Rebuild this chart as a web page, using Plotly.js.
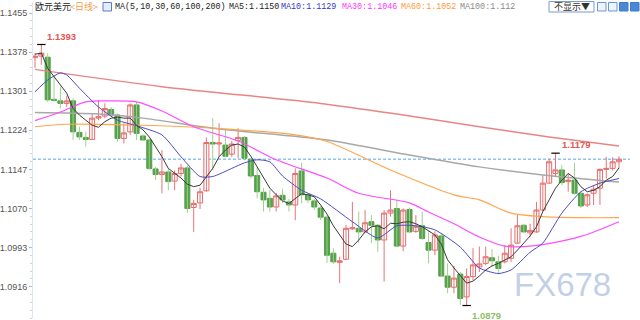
<!DOCTYPE html>
<html><head><meta charset="utf-8">
<script src="https://cdn.plot.ly/plotly-3.0.1.min.js"></script>
<style>html,body{margin:0;padding:0;background:#fff;overflow:hidden}#chart{width:640px;height:320px;}</style>
</head><body><div id="chart"></div>
<script>
// ---- data ----
const openP = [1.1367,1.1370,1.1368,1.1285,1.1282,1.1277,1.1282,1.1220,1.1210,1.1206,
1.1248,1.1252,1.1265,1.1254,1.1208,1.1221,1.1274,1.1213,1.1205,1.1148,
1.1137,1.1142,1.1124,1.1139,1.1150,1.1072,1.1081,1.1105,1.1200,1.1197,
1.1195,1.1177,1.1204,1.1210,1.1167,1.1135,1.1102,1.1090,1.1073,1.1096,
1.1083,1.1077,1.1144,1.1097,1.1085,1.1071,1.1053,1.0982,1.0964,1.0970,
1.1030,1.1031,1.1024,1.1044,1.1037,1.1008,1.1061,1.1070,1.0996,1.1068,
1.1025,1.1036,1.1003,1.0988,1.1016,1.0937,1.0915,1.0941,1.0896,1.0936,
1.0955,1.0962,1.0973,1.0965,1.0965,1.0972,1.1002,1.1037,1.1022,1.1024,
1.1067,1.1120,1.1139,1.1146,1.1123,1.1126,1.1100,1.1077,1.1100,1.1110,
1.1147,1.1149,1.1162];
const highP = [1.1376,1.1393,1.1376,1.1333,1.1310,1.1292,1.1287,1.1231,1.1221,1.1258,
1.1284,1.1277,1.1270,1.1257,1.1238,1.1277,1.1280,1.1216,1.1207,1.1152,
1.1185,1.1149,1.1145,1.1158,1.1155,1.1087,1.1111,1.1210,1.1248,1.1238,
1.1225,1.1203,1.1228,1.1213,1.1168,1.1152,1.1110,1.1107,1.1101,1.1109,
1.1089,1.1149,1.1160,1.1100,1.1089,1.1075,1.1056,1.0992,1.0975,1.1038,
1.1083,1.1064,1.1067,1.1057,1.1040,1.1067,1.1106,1.1088,1.1070,1.1072,
1.1057,1.1064,1.1028,1.1025,1.1022,1.0962,1.0957,1.0945,1.0952,1.0992,
1.0995,1.0995,1.0990,1.0977,1.0998,1.1031,1.1057,1.1040,1.1040,1.1083,
1.1136,1.1168,1.1179,1.1156,1.1139,1.1160,1.1103,1.1100,1.1116,1.1149,
1.1172,1.1171,1.1173];
const lowP = [1.1347,1.1353,1.1280,1.1280,1.1267,1.1270,1.1205,1.1205,1.1192,1.1205,
1.1244,1.1248,1.1251,1.1202,1.1198,1.1215,1.1205,1.1203,1.1146,1.1126,
1.1100,1.1106,1.1106,1.1133,1.1061,1.1024,1.1069,1.1103,1.1146,1.1172,
1.1171,1.1172,1.1169,1.1165,1.1129,1.1090,1.1064,1.1064,1.1064,1.1081,
1.1064,1.1047,1.1080,1.1081,1.1067,1.1047,1.0963,1.0961,1.0923,1.0969,
1.1028,1.1002,1.1022,1.1002,1.0985,1.0926,1.1054,1.0995,1.0986,1.1022,
1.1022,1.1008,1.0962,1.0978,1.0936,1.0903,1.0903,1.0880,1.0879,1.0929,
1.0945,1.0958,1.0955,1.0940,1.0962,1.0965,1.1000,1.1022,1.1015,1.1022,
1.1064,1.1119,1.1132,1.1116,1.1103,1.1097,1.1071,1.1073,1.1077,1.1077,
1.1129,1.1145,1.1149];
const closeP = [1.1370,1.1376,1.1284,1.1283,1.1277,1.1282,1.1221,1.1211,1.1206,1.1248,
1.1251,1.1267,1.1254,1.1208,1.1219,1.1274,1.1218,1.1205,1.1149,1.1137,
1.1142,1.1123,1.1139,1.1150,1.1070,1.1080,1.1103,1.1200,1.1197,1.1199,
1.1173,1.1197,1.1210,1.1169,1.1134,1.1103,1.1087,1.1073,1.1095,1.1087,
1.1077,1.1139,1.1097,1.1087,1.1073,1.1053,1.0978,1.0965,1.0967,1.1031,
1.1032,1.1024,1.1042,1.1037,1.1008,1.1061,1.1067,1.0996,1.1067,1.1024,
1.1035,1.1011,1.0988,1.1018,1.0937,1.0915,1.0933,1.0893,1.0936,1.0959,
1.0961,1.0975,1.0967,1.0952,1.0982,1.0998,1.1036,1.1024,1.1027,1.1067,
1.1120,1.1162,1.1146,1.1121,1.1126,1.1100,1.1075,1.1097,1.1108,1.1147,
1.1149,1.1162,1.1167];

const ma5 = [1.1374,1.1376,1.1346,1.1330,1.1313,1.1297,1.1267,1.1254,1.1244,1.1234,
1.1230,1.1241,1.1248,1.1250,1.1248,1.1248,1.1234,1.1225,1.1211,1.1192,
1.1172,1.1149,1.1139,1.1130,1.1118,1.1113,1.1116,1.1133,1.1149,1.1172,
1.1185,1.1195,1.1197,1.1191,1.1173,1.1152,1.1130,1.1110,1.1097,1.1085,
1.1080,1.1090,1.1099,1.1097,1.1093,1.1077,1.1059,1.1036,1.1018,1.1000,
1.0995,1.1008,1.1024,1.1034,1.1036,1.1030,1.1041,1.1040,1.1043,1.1044,
1.1040,1.1034,1.1026,1.1018,1.1000,1.0969,1.0953,1.0939,1.0923,1.0927,
1.0937,1.0949,1.0957,1.0962,1.0969,1.0975,1.0988,1.1001,1.1016,1.1034,
1.1064,1.1087,1.1110,1.1126,1.1139,1.1130,1.1113,1.1103,1.1106,1.1113,
1.1126,1.1133,1.1150];
const ma10Idx = [0,2,4,5,7,10,13,16,20,23,26,28,31,33,35,37,39,42,45,50,54,57,60,63,67,70,73,75,78,80,83,86,89,92];
const ma10Val = [1.1300,1.1323,1.1337,1.1333,1.1307,1.1270,1.1244,1.1233,1.1215,1.1172,1.1133,1.1133,1.1149,1.1160,1.1166,1.1162,1.1134,1.1106,1.1089,1.1044,1.1012,1.1036,1.1036,1.1028,1.0994,1.0953,1.0942,1.0949,1.0984,1.1002,1.1061,1.1103,1.1120,1.1129];
const ma30Idx = [0,4,8,12,16,20,25,32,38,46,51,59,62,66,70,74,77,80,86,92];
const ma30Val = [1.1243,1.1260,1.1280,1.1282,1.1280,1.1262,1.1231,1.1203,1.1166,1.1130,1.1100,1.1081,1.1063,1.1040,1.1014,1.0996,1.0995,1.0999,1.1015,1.1044];
const ma60Idx = [0,5,17,31,41,46,56,66,70,75,80,86,92];
const ma60Val = [1.1231,1.1236,1.1234,1.1226,1.1215,1.1202,1.1146,1.1097,1.1087,1.1061,1.1054,1.1052,1.1052];
const ma100Idx = [0,10,17,28,46,57,70,80,92];
const ma100Val = [1.1259,1.1256,1.1248,1.1228,1.1205,1.1180,1.1152,1.1136,1.1122];
const ma200Idx = [0,20,45,57,70,81,92];
const ma200Val = [1.1344,1.1310,1.1277,1.1256,1.1231,1.1211,1.1193];

const yTicks = [1.1455,1.1378,1.1301,1.1224,1.1147,1.1070,1.0993,1.0916];
const lastPrice = 1.1167;
const markIdx = [1,82,68];
const markVal = [1.1393,1.1179,1.0879];
const markText = ['1.1393','1.1179','1.0879'];
const headerTexts = ['欧元美元','<日线>','MA(5,10,30,60,100,200)','MA5:1.1150','MA10:1.1129','MA30:1.1046','MA60:1.1052','MA100:1.112'];

// ---- build ----
const idx = closeP.map((_, i) => i);
const wUpX = [], wUpY = [], wDnX = [], wDnY = [];
idx.forEach(i => {
  const up = closeP[i] >= openP[i];
  (up ? wUpX : wDnX).push(i, i, null);
  (up ? wUpY : wDnY).push(lowP[i], highP[i], null);
});
const bodyHi = idx.map(i => Math.max(openP[i], closeP[i]));
const bodyLo = idx.map(i => Math.min(openP[i], closeP[i]));

const traces = [
  {type:'scatter', mode:'lines', x:wDnX, y:wDnY, line:{color:'#9fd08f', width:1}, hoverinfo:'skip', connectgaps:false},
  {type:'scatter', mode:'lines', x:wUpX, y:wUpY, line:{color:'#e87474', width:1}, hoverinfo:'skip', connectgaps:false},
  {type:'candlestick', x:idx, open:openP, close:closeP, high:bodyHi, low:bodyLo, whiskerwidth:0,
    increasing:{line:{color:'#e66b6b', width:1}, fillcolor:'#ffffff'},
    decreasing:{line:{color:'#55a14c', width:1}, fillcolor:'#55a14c'}},
  {type:'scatter', mode:'lines', x:ma200Idx, y:ma200Val, line:{color:'#ea8585', width:1.5, shape:'spline', smoothing:0.8}},
  {type:'scatter', mode:'lines', x:ma100Idx, y:ma100Val, line:{color:'#a8a8a8', width:1.5, shape:'spline', smoothing:0.8}},
  {type:'scatter', mode:'lines', x:ma60Idx, y:ma60Val, line:{color:'#ffa64d', width:1.2, shape:'spline', smoothing:0.8}},
  {type:'scatter', mode:'lines', x:ma30Idx, y:ma30Val, line:{color:'#ff4dff', width:1.2, shape:'spline', smoothing:0.8}},
  {type:'scatter', mode:'lines', x:ma10Idx, y:ma10Val, line:{color:'#4a4ac4', width:1, shape:'spline', smoothing:0.6}},
  {type:'scatter', mode:'lines', x:idx, y:ma5, line:{color:'#3a3a3a', width:1}},
  {type:'scatter', mode:'markers', x:markIdx, y:markVal, marker:{symbol:'line-ew-open', size:6, color:'#000000', line:{color:'#000000', width:1.2}}}
];

const L = 33, R = 4, T = 2, B = 2, W = 640, H = 320;
const px = x => (x - L) / (W - L - R);
const py = y => 1 - (y - T) / (H - T - B);

const ann = [];
const hdrX = [33, 68, 113, 227, 279, 340, 399, 458];
const hdrC = ['#222','#f0a050','#222','#222','#3535c8','#ff33ff','#ff9a40','#8a8a8a'];
headerTexts.forEach((t, k) => {
  const cjk = k < 2;
  ann.push({xref:'paper', yref:'paper', x:px(hdrX[k]), y:py(7), xanchor:'left', yanchor:'middle', showarrow:false,
    text:t, font:{family: cjk ? 'Noto Sans CJK SC' : 'Liberation Mono, DejaVu Sans Mono, monospace', size: cjk ? 9 : 8.4, color:hdrC[k]}});
});
ann.push({xref:'paper', yref:'paper', x:px(571.5), y:py(7), xanchor:'center', yanchor:'middle', showarrow:false,
  text:'不显示▼', font:{family:'Noto Sans CJK SC', size:9, color:'#333'}});
ann.push({xref:'paper', yref:'paper', x:px(512), y:py(284), xanchor:'left', yanchor:'middle', showarrow:false,
  text:'FX678', font:{family:'Liberation Sans, Arial', size:33, color:'rgba(176,196,224,0.78)'}});
const markCol = ['#e25656','#e25656','#8cc068'];
markIdx.forEach((m, k) => {
  const low = k === 2;
  ann.push({x:m, y:markVal[k], xref:'x', yref:'y', xanchor:'left', yanchor: low ? 'top' : 'bottom',
    xshift: low ? 3 : 4, yshift: low ? -2 : 1, showarrow:false,
    text:'<b>' + markText[k] + '</b>', font:{family:'Liberation Sans, Arial', size:9.5, color:markCol[k]}});
});

const shapes = [
  {type:'line', xref:'paper', yref:'y', x0:0, x1:0.99, y0:lastPrice, y1:lastPrice, line:{color:'#8cc4f6', width:1.6, dash:'3px,2px'}, layer:'below'},
  {type:'rect', xref:'paper', yref:'paper', x0:px(549), x1:px(594), y0:py(12), y1:py(1.5), line:{color:'#7b9dc8', width:1}, fillcolor:'#ffffff'},
  {type:'rect', xref:'paper', yref:'paper', x0:px(597.5), x1:px(606), y0:py(11), y1:py(2.5), line:{color:'#6a96d2', width:1}, fillcolor:'#eef4fc'},
  {type:'rect', xref:'paper', yref:'paper', x0:px(608.5), x1:px(617), y0:py(11), y1:py(2.5), line:{color:'#6a96d2', width:1}, fillcolor:'#eef4fc'},
  {type:'rect', xref:'paper', yref:'paper', x0:px(619.5), x1:px(628), y0:py(11), y1:py(2.5), line:{color:'#3f7ccc', width:1}, fillcolor:'#4a88d6'},
  {type:'rect', xref:'paper', yref:'paper', x0:px(630.5), x1:px(639), y0:py(11), y1:py(2.5), line:{color:'#3f7ccc', width:1}, fillcolor:'#4a88d6'},
  {type:'rect', xref:'paper', yref:'paper', x0:px(103), x1:px(111.5), y0:py(11), y1:py(2.5), line:{color:'#5a7ccc', width:1}, fillcolor:'#e6ecfa'}
];

const layout = {
  width:W, height:H, margin:{l:L, r:R, t:T, b:B, pad:0},
  paper_bgcolor:'#ffffff', plot_bgcolor:'#ffffff', showlegend:false,
  boxgap:0.12, boxgroupgap:0.1,
  xaxis:{range:[-0.315, 94.68], showgrid:false, zeroline:false, showticklabels:false, ticks:'', showline:false, rangeslider:{visible:false}, fixedrange:true},
  yaxis:{range:[1.08544, 1.14767], tickvals:yTicks, ticktext:yTicks.map(v => v.toFixed(4)), showgrid:false, zeroline:false,
    showline:true, linecolor:'#dde6f0', linewidth:1, ticks:'outside', ticklen:3, tickcolor:'#a8bccf', automargin:false,
    tickfont:{family:'Liberation Sans, Arial', size:9, color:'#555'},
    minor:{ticks:'outside', ticklen:2, tickcolor:'#c9d6e4', dtick:0.00154, tick0:1.0916, showgrid:false}},
  annotations:ann, shapes:shapes
};
Plotly.newPlot('chart', traces, layout, {staticPlot:true, displayModeBar:false});
</script></body></html>
